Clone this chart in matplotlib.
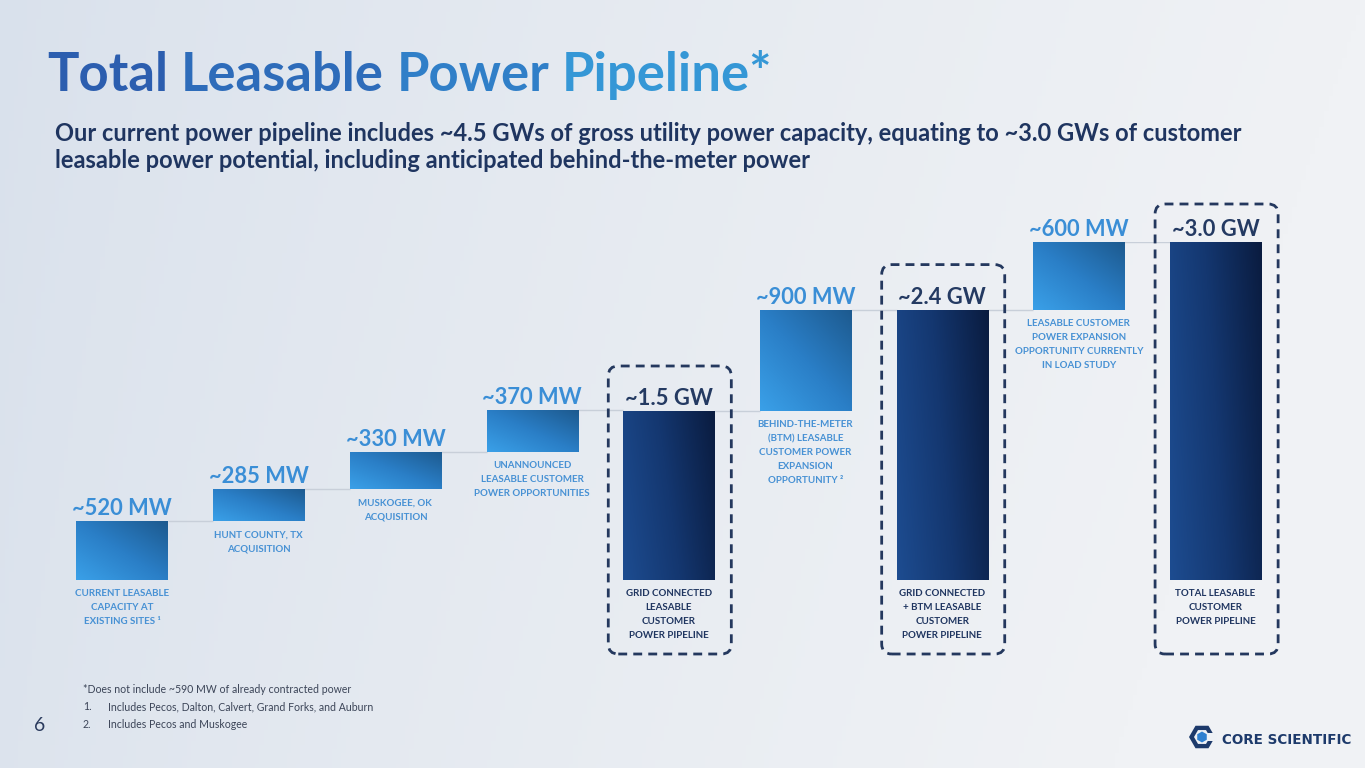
import numpy as np
import matplotlib
matplotlib.use("Agg")
import matplotlib.pyplot as plt
from matplotlib.colors import LinearSegmentedColormap, to_rgb
from matplotlib.patches import FancyBboxPatch, RegularPolygon, Rectangle
from matplotlib.transforms import IdentityTransform

W, H, DPI = 1365, 768, 100

# ---- data ----
values = [520, 285, 330, 370, 1500, 900, 2400, 600, 3000]
kinds = ["step", "step", "step", "step", "total", "step", "total", "step", "total"]
value_labels = ["~520 MW", "~285 MW", "~330 MW", "~370 MW", "~1.5 GW",
                "~900 MW", "~2.4 GW", "~600 MW", "~3.0 GW"]
categories = [
    "CURRENT LEASABLE\nCAPACITY AT\nEXISTING SITES \u00b9",
    "HUNT COUNTY, TX\nACQUISITION",
    "MUSKOGEE, OK\nACQUISITION",
    "UNANNOUNCED\nLEASABLE CUSTOMER\nPOWER OPPORTUNITIES",
    "GRID CONNECTED\nLEASABLE\nCUSTOMER\nPOWER PIPELINE",
    "BEHIND-THE-METER\n(BTM) LEASABLE\nCUSTOMER POWER\nEXPANSION\nOPPORTUNITY \u00b2",
    "GRID CONNECTED\n+ BTM LEASABLE\nCUSTOMER\nPOWER PIPELINE",
    "LEASABLE CUSTOMER\nPOWER EXPANSION\nOPPORTUNITY CURRENTLY\nIN LOAD STUDY",
    "TOTAL LEASABLE\nCUSTOMER\nPOWER PIPELINE",
]
title_words = ["Total", "Leasable", "Power", "Pipeline*"]
subtitle_lines = [
    "Our current power pipeline includes ~4.5 GWs of gross utility power capacity, equating to ~3.0 GWs of customer",
    "leasable power potential, including anticipated behind-the-meter power",
]
footnotes = [
    ("", "*Does not include ~590 MW of already contracted power"),
    ("1.", "Includes Pecos, Dalton, Calvert, Grand Forks, and Auburn"),
    ("2.", "Includes Pecos and Muskogee"),
]
page_number = "6"
logo_text = "CORE SCIENTIFIC"

FONT = ["Lato", "DejaVu Sans"]
plt.rcParams["font.family"] = FONT

LIGHT_TXT = "#3a8ed6"
DARK_TXT = "#1f3560"
NAVY = "#243a62"


def fx(x):
    return x / W


def fy(y):
    return 1 - y / H


fig = plt.figure(figsize=(W / DPI, H / DPI), dpi=DPI)
renderer = fig.canvas.get_renderer()


def fit(t, target_px):
    w = t.get_window_extent(renderer=renderer).width
    t.set_fontsize(t.get_fontsize() * target_px / w)
    return t


# background gradient
bg = fig.add_axes([0, 0, 1, 1], zorder=-10)
gx = np.linspace(0, 1, 300)[None, :]
gy = np.linspace(0, 1, 200)[:, None]
left_c = np.array(to_rgb("#d9e1ec"))
right_c = np.array(to_rgb("#f0f2f5"))
t_mix = np.clip(gx ** 0.8 + 0.15 * gy, 0, 1)[..., None]
bg_img = left_c * (1 - t_mix) + right_c * t_mix
bg.imshow(bg_img, aspect="auto", extent=[0, 1, 0, 1], origin="upper")
bg.axis("off")

# main chart axes: baseline at y=580px, 3000 MW at y=242px
x_left = 122 - 136.7 / 2
ax = fig.add_axes([fx(x_left), fy(580), 9 * 136.7 / W, (580 - 242) / H])
ax.patch.set_alpha(0)
ax.axis("off")

light_cmap = LinearSegmentedColormap.from_list("light", ["#3aa0e8", "#2a7ec6", "#1d5a8f"])
dark_cmap = LinearSegmentedColormap.from_list("dark", ["#1d4c90", "#143770", "#0a1c40"])

n = 64
cc, rr = np.meshgrid(np.linspace(0, 1, n), np.linspace(0, 1, n))
light_grad = (cc + rr) / 2
dark_grad = 0.8 * cc + 0.2 * rr

bw = 0.666
bottoms, tops = [], []
running = 0
for v, k in zip(values, kinds):
    if k == "total":
        b = 0
        running = v
    else:
        b = running
        running += v
    bottoms.append(b)
    tops.append(b + v)

xs = np.arange(len(values))

# connectors
for i in range(len(values) - 1):
    ax.plot([xs[i] + bw / 2, xs[i + 1] - bw / 2], [tops[i], tops[i]],
            color="#c8cfd9", lw=1, zorder=1, solid_capstyle="butt")

for i, (v, b, k) in enumerate(zip(values, bottoms, kinds)):
    rect = ax.bar(xs[i], v, bottom=b, width=bw, color="#2a7ec6", zorder=2, linewidth=0)[0]
    grad = dark_grad if k == "total" else light_grad
    cmap = dark_cmap if k == "total" else light_cmap
    im = ax.imshow(grad, cmap=cmap, origin="lower", aspect="auto", zorder=3,
                   extent=[xs[i] - bw / 2, xs[i] + bw / 2, b, b + v])
    im.set_clip_path(rect)

ax.set_xlim(-0.5, len(values) - 0.5)
ax.set_ylim(0, 3000)

# value labels
val_texts = []
for i, lab in enumerate(value_labels):
    col = NAVY if kinds[i] == "total" else LIGHT_TXT
    t = ax.annotate(lab, (xs[i], tops[i]), xytext=(0, 6), textcoords="offset pixels",
                    ha="center", va="baseline", fontsize=20, fontweight="bold",
                    color=col, annotation_clip=False)
    val_texts.append(t)
fit(val_texts[0], 100)
for t in val_texts[1:]:
    t.set_fontsize(val_texts[0].get_fontsize())

# category labels
cat_texts = []
for i, lab in enumerate(categories):
    col = DARK_TXT if kinds[i] == "total" else "#4791d4"
    t = ax.annotate(lab, (xs[i], bottoms[i]), xytext=(0, -9), textcoords="offset pixels",
                    ha="center", va="top", fontsize=8, fontweight="bold",
                    color=col, linespacing=1.72, annotation_clip=False)
    cat_texts.append(t)
probe = fig.text(0, 0, "POWER OPPORTUNITIES", fontsize=8, fontweight="bold")
fit(probe, 115)
cat_fs = probe.get_fontsize()
probe.remove()
for t in cat_texts:
    t.set_fontsize(cat_fs)

# dashed boxes round the total bars
for i, k in enumerate(kinds):
    if k != "total":
        continue
    (x0, y0) = ax.transData.transform((xs[i] - bw / 2, 0))
    (x1, y1) = ax.transData.transform((xs[i] + bw / 2, tops[i]))
    top_pad = 38 if i == len(values) - 1 else 45
    box = FancyBboxPatch((x0 - 15, y0 - 74), (x1 - x0) + 32, (y1 - y0) + 74 + top_pad,
                         boxstyle="round,pad=0,rounding_size=10", transform=IdentityTransform(),
                         fill=False, edgecolor="#24385e", lw=2.0, linestyle=(0, (3.2, 2.2)),
                         zorder=5)
    fig.add_artist(box)

# title, word by word with a blue gradient
title_cols = ["#2c5eaf", "#2e6cba", "#307fc8", "#3597d6"]
full = fig.text(fx(47), fy(91), " ".join(title_words), fontsize=40, fontweight="bold",
                va="baseline", ha="left")
fit(full, 725)
tfs = full.get_fontsize()
full.remove()
for j, word in enumerate(title_words):
    prefix = " ".join(title_words[: j + 1])
    pw = fig.text(0, 0, prefix, fontsize=tfs, fontweight="bold")
    ww = fig.text(0, 0, word, fontsize=tfs, fontweight="bold")
    off = pw.get_window_extent(renderer=renderer).width - ww.get_window_extent(renderer=renderer).width
    pw.remove()
    ww.remove()
    fig.text(fx(47 + off), fy(91), word, fontsize=tfs, fontweight="bold",
             color=title_cols[j], va="baseline", ha="left")

# subtitle
s1 = fig.text(fx(55), fy(141), subtitle_lines[0], fontsize=18, fontweight="bold",
              color=DARK_TXT, va="baseline", ha="left")
fit(s1, 1187)
fig.text(fx(55), fy(168), subtitle_lines[1], fontsize=s1.get_fontsize(), fontweight="bold",
         color=DARK_TXT, va="baseline", ha="left")

# footnotes
f0 = fig.text(fx(83), fy(693), footnotes[0][1], fontsize=7.5, color="#3c4558",
              va="baseline", ha="left")
fit(f0, 265)
ffs = f0.get_fontsize()
for k, (num, txt) in enumerate(footnotes[1:]):
    yb = 710 + 18 * k
    fig.text(fx(83), fy(yb), num, fontsize=ffs, color="#3c4558", va="baseline", ha="left")
    fig.text(fx(108), fy(yb), txt, fontsize=ffs, color="#3c4558", va="baseline", ha="left")
fig.text(fx(34), fy(731), page_number, fontsize=14, color="#2b3b5e", va="baseline", ha="left")

# logo
cxl, cyl = 1202, H - 737
fig.add_artist(RegularPolygon((cxl, cyl), 6, radius=13, orientation=np.pi / 6,
                              transform=IdentityTransform(), facecolor="#1d3a6b", lw=0))
fig.add_artist(Rectangle((cxl + 5, cyl - 4), 10, 8, transform=IdentityTransform(),
                         facecolor="#eef1f5", lw=0))
fig.add_artist(RegularPolygon((cxl, cyl), 6, radius=8, orientation=np.pi / 6,
                              transform=IdentityTransform(), facecolor="#eef1f5", lw=0))
fig.add_artist(RegularPolygon((cxl, cyl), 6, radius=5.5, orientation=0,
                              transform=IdentityTransform(), facecolor="#2f80d0", lw=0))
lt = fig.text(fx(1222), fy(743.5), logo_text, fontsize=11, fontweight="bold",
              color="#1d3a6b", va="baseline", ha="left", family=["DejaVu Sans"])
fit(lt, 129)

fig.savefig("out.png", dpi=DPI)
